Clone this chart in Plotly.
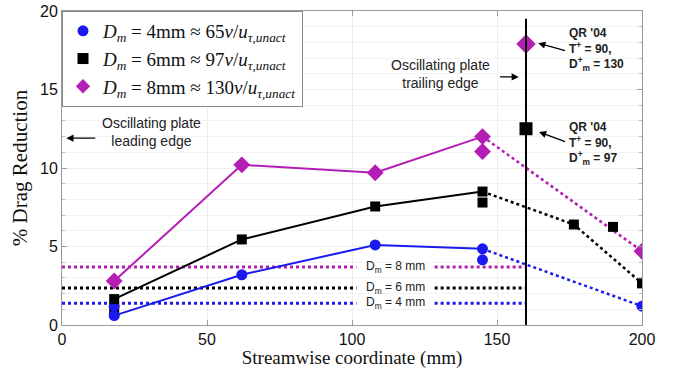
import plotly.graph_objects as go

# Streamwise stations (mm) and drag reduction (%) for each plate diameter
x_stations = [18, 62, 108, 145]
dr_4mm = [0.6, 3.2, 5.1, 4.85]
dr_6mm = [1.65, 5.45, 7.55, 8.5]
dr_8mm = [2.8, 10.2, 9.7, 12.0]

# Repeat measurements at the first and last stations
x_rep_4mm = [18, 145]
dr_rep_4mm = [1.2, 4.15]
x_rep_6mm = [18, 145]
dr_rep_6mm = [0.8, 7.8]
x_rep_8mm = [145]
dr_rep_8mm = [11.05]

# Downstream of the trailing edge (recovery region)
x_down_4mm = [145, 200]
dr_down_4mm = [4.85, 1.2]
x_down_6mm = [145, 176.5, 200]
dr_down_6mm = [8.5, 6.4, 2.65]
x_down_8mm = [145, 200]
dr_down_8mm = [12.0, 4.7]
x_extra_6mm = [190]
dr_extra_6mm = [6.25]

# Quadrio & Ricco (2004) reference values at the trailing edge
x_qr = [160]
dr_qr_130 = [17.9]
dr_qr_97 = [12.5]

# Uncontrolled-equivalent baselines
baseline_8mm = 3.7
baseline_6mm = 2.35
baseline_4mm = 1.38

x_ticks = [0, 50, 100, 150, 200]
y_ticks = [0, 5, 10, 15, 20]

TRAILING_EDGE = 160
LABEL_GAP = (101.5, 128.5)

BLUE = "#1a1aee"
BLACK = "#000000"
MAGENTA = "#b41eb4"
SANS = "Liberation Sans, Arial, sans-serif"
SERIF = "Liberation Serif, Times New Roman, serif"

fig = go.Figure()


def baseline(level, color):
    xs = [0, LABEL_GAP[0], None, LABEL_GAP[1], TRAILING_EDGE]
    ys = [level, level, None, level, level]
    fig.add_trace(go.Scatter(x=xs, y=ys, mode="lines", showlegend=False,
                             line=dict(color=color, width=3, dash="dot"),
                             hoverinfo="skip"))


baseline(baseline_8mm, MAGENTA)
baseline(baseline_6mm, BLACK)
baseline(baseline_4mm, BLUE)

# Dotted recovery lines
for xs, ys, c in [(x_down_4mm, dr_down_4mm, BLUE),
                  (x_down_6mm, dr_down_6mm, BLACK),
                  (x_down_8mm, dr_down_8mm, MAGENTA)]:
    fig.add_trace(go.Scatter(x=xs, y=ys, mode="lines", showlegend=False,
                             line=dict(color=c, width=2.5, dash="dot")))

# Marker end points of recovery region
fig.add_trace(go.Scatter(x=x_down_4mm[1:], y=dr_down_4mm[1:], mode="markers", showlegend=False,
                         marker=dict(symbol="circle", size=11, color=BLUE)))
fig.add_trace(go.Scatter(x=x_down_6mm[1:], y=dr_down_6mm[1:], mode="markers", showlegend=False,
                         marker=dict(symbol="square", size=10, color=BLACK)))
fig.add_trace(go.Scatter(x=x_extra_6mm, y=dr_extra_6mm, mode="markers", showlegend=False,
                         marker=dict(symbol="square", size=10, color=BLACK)))
fig.add_trace(go.Scatter(x=x_down_8mm[1:], y=dr_down_8mm[1:], mode="markers", showlegend=False,
                         marker=dict(symbol="diamond", size=13, color=MAGENTA)))

# Repeat points
fig.add_trace(go.Scatter(x=x_rep_6mm, y=dr_rep_6mm, mode="markers", showlegend=False,
                         marker=dict(symbol="square", size=10, color=BLACK)))
fig.add_trace(go.Scatter(x=x_rep_4mm, y=dr_rep_4mm, mode="markers", showlegend=False,
                         marker=dict(symbol="circle", size=11, color=BLUE)))
fig.add_trace(go.Scatter(x=x_rep_8mm, y=dr_rep_8mm, mode="markers", showlegend=False,
                         marker=dict(symbol="diamond", size=13, color=MAGENTA)))

# Main series
fig.add_trace(go.Scatter(x=x_stations, y=dr_6mm, mode="lines+markers", showlegend=False,
                         line=dict(color=BLACK, width=2),
                         marker=dict(symbol="square", size=10, color=BLACK)))
fig.add_trace(go.Scatter(x=x_stations, y=dr_4mm, mode="lines+markers", showlegend=False,
                         line=dict(color=BLUE, width=2),
                         marker=dict(symbol="circle", size=11, color=BLUE)))
fig.add_trace(go.Scatter(x=x_stations, y=dr_8mm, mode="lines+markers", showlegend=False,
                         line=dict(color=MAGENTA, width=2),
                         marker=dict(symbol="diamond", size=13, color=MAGENTA)))

# Reference points
fig.add_trace(go.Scatter(x=x_qr, y=dr_qr_130, mode="markers", showlegend=False,
                         marker=dict(symbol="diamond", size=15, color=MAGENTA)))
fig.add_trace(go.Scatter(x=x_qr, y=dr_qr_97, mode="markers", showlegend=False,
                         marker=dict(symbol="square", size=13, color=BLACK)))

# Legend entries
legend_items = [
    ("circle", BLUE, "<i>D<sub>m</sub></i> = 4mm ≈ 65<i>ν</i>/<i>u</i><sub><i>τ,unact</i></sub>"),
    ("square", BLACK, "<i>D<sub>m</sub></i> = 6mm ≈ 97<i>ν</i>/<i>u</i><sub><i>τ,unact</i></sub>"),
    ("diamond", MAGENTA, "<i>D<sub>m</sub></i> = 8mm ≈ 130<i>ν</i>/<i>u</i><sub><i>τ,unact</i></sub>"),
]
for sym, col, name in legend_items:
    fig.add_trace(go.Scatter(x=[None], y=[None], mode="markers", name=name,
                             marker=dict(symbol=sym, size=11, color=col)))

# Trailing edge of the oscillating plate
fig.add_shape(type="line", x0=TRAILING_EDGE, x1=TRAILING_EDGE, y0=0, y1=19.5,
              line=dict(color="black", width=2))

ann_font = dict(family=SANS, size=14, color="#222")
qr_font = dict(family=SANS, size=12, color="#222")


def arrow(x_head, y_head, x_tail, y_tail):
    fig.add_annotation(x=x_head, y=y_head, ax=x_tail, ay=y_tail, axref="x", ayref="y",
                       text="", showarrow=True, arrowhead=2, arrowsize=1.1,
                       arrowwidth=1.3, arrowcolor="black")


fig.add_annotation(x=31, y=12.3, text="Oscillating plate<br>leading edge", showarrow=False,
                   font=ann_font, xanchor="center", yanchor="middle")
arrow(1.5, 11.9, 12, 11.9)

fig.add_annotation(x=130.5, y=16.0, text="Oscillating plate<br>trailing edge", showarrow=False,
                   font=ann_font, xanchor="center", yanchor="middle")
arrow(157.5, 15.8, 150.5, 15.8)

fig.add_annotation(x=174.3, y=19.2, text="<b>QR '04<br>T<sup>+</sup> = 90,<br>D<sup>+</sup><sub>m</sub> = 130</b>",
                   showarrow=False, font=qr_font, xanchor="left", yanchor="top", align="left")
arrow(164.2, 17.95, 174.0, 17.45)

fig.add_annotation(x=174.3, y=13.2, text="<b>QR '04<br>T<sup>+</sup> = 90,<br>D<sup>+</sup><sub>m</sub> = 97</b>",
                   showarrow=False, font=qr_font, xanchor="left", yanchor="top", align="left")
arrow(164.5, 12.3, 174.0, 11.65)

for level, mm in [(baseline_8mm, 8), (baseline_6mm, 6), (baseline_4mm, 4)]:
    fig.add_annotation(x=sum(LABEL_GAP) / 2, y=level, text=f"D<sub>m</sub> = {mm} mm",
                       showarrow=False, font=dict(family=SANS, size=12, color="#222"),
                       xanchor="center", yanchor="middle")

axis_common = dict(showline=True, linecolor="#9a9a9a", linewidth=1, mirror="ticks",
                   ticks="inside", ticklen=5, tickcolor="#9a9a9a",
                   tickfont=dict(family=SANS, size=16, color="#111"),
                   zeroline=False, showgrid=True, gridcolor="#eeeeee")

fig.update_xaxes(range=[0, 200], tickvals=x_ticks, **axis_common,
                 title=dict(text="Streamwise coordinate (mm)", standoff=6,
                            font=dict(family=SERIF, size=19, color="#111")))
fig.update_yaxes(range=[0, 20], tickvals=y_ticks, **axis_common,
                 minor=dict(dtick=1, ticks="inside", ticklen=3, tickcolor="#bbbbbb",
                            showgrid=True, gridcolor="#f3f3f3"),
                 title=dict(text="% Drag Reduction", standoff=6,
                            font=dict(family=SERIF, size=21, color="#111")))

fig.update_layout(
    width=674, height=369,
    margin=dict(l=62, r=32, t=11, b=44, autoexpand=False),
    paper_bgcolor="white", plot_bgcolor="white",
    showlegend=True,
    legend=dict(x=0, y=1, xanchor="left", yanchor="top",
                bgcolor="white", bordercolor="#8a8a8a", borderwidth=1,
                font=dict(family=SERIF, size=19, color="#111"),
                itemwidth=30, tracegroupgap=0),
)

fig.write_html("out.html")
